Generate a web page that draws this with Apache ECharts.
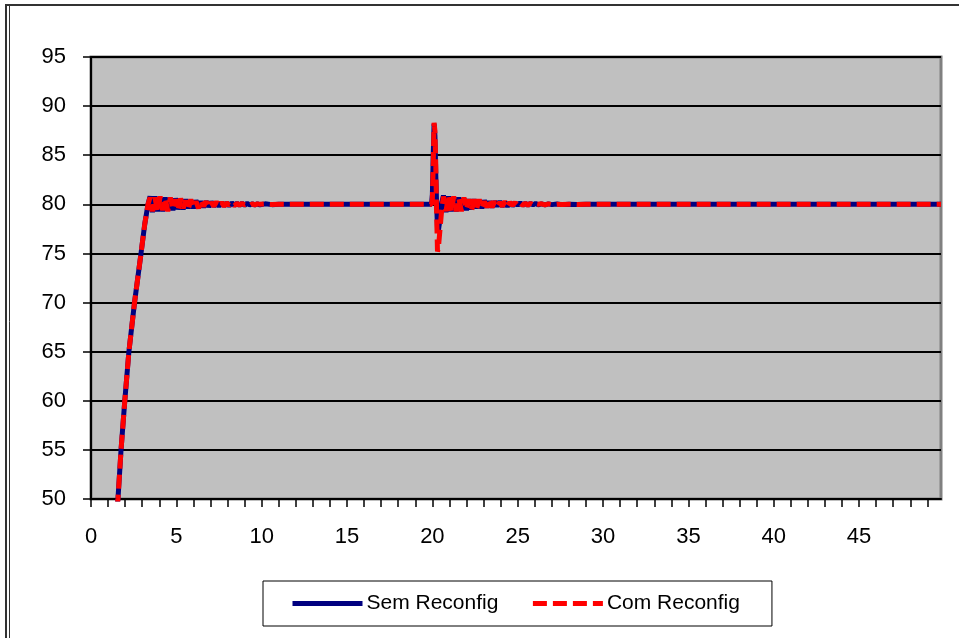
<!DOCTYPE html>
<html>
<head>
<meta charset="utf-8">
<script src="https://cdn.jsdelivr.net/npm/echarts@6/dist/echarts.min.js"></script>
<style>
html,body{margin:0;padding:0;background:#fff;}
#chart{width:959px;height:638px;}
</style>
</head>
<body>
<div id="chart"></div>
<script>
// Time axis (s) and the two series
var tempo = [1.4,1.58,1.76,1.98,2.22,2.55,2.93,3.15,3.34,3.46,
  3.6,3.75,3.9,4.05,4.2,4.35,4.5,4.65,4.8,4.95,5.1,5.25,5.4,5.55,5.7,5.85,6.0,6.15,6.3,6.45,6.6,6.75,6.9,7.05,7.2,7.35,7.5,7.65,7.8,7.95,8.1,8.25,8.4,8.55,8.7,8.85,9.0,9.15,9.3,9.45,9.6,9.75,9.9,
  10.2,10.6,11,19.95,
  20.0,20.05,20.1,20.15,20.2,20.25,20.3,20.35,20.45,20.55,20.65,
  20.8,20.95,21.1,21.25,21.4,21.55,21.7,21.85,22.0,22.15,22.3,22.45,22.6,22.75,22.9,23.05,23.2,23.35,23.5,23.65,23.8,23.95,24.1,24.25,24.4,24.55,24.7,24.85,25.0,25.15,25.3,25.45,25.6,25.75,25.9,26.05,
  26.2,26.4,26.6,26.8,27.0,27.3,27.6,28,28.5,29,49.8];

var semReconfig = [47,50,55,60,65,70,75,78,80,80.8,
  79.2,80.8,79.3,80.7,79.3,80.7,79.4,80.6,79.4,80.6,79.5,80.5,79.5,80.5,79.6,80.4,79.6,80.4,79.7,80.3,79.7,80.3,79.75,80.25,79.8,80.2,79.8,80.2,79.85,80.15,79.85,80.15,79.9,80.1,79.9,80.1,79.9,80.1,79.95,80.05,79.95,80.05,79.95,
  80.05,79.97,80,80,
  81,85,88.2,87,83,80,77.6,77.3,78.5,80.2,80.9,
  79.2,80.8,79.3,80.7,79.3,80.7,79.4,80.6,79.4,80.5,79.5,80.5,79.6,80.4,79.6,80.4,79.7,80.3,79.7,80.3,79.8,80.3,79.8,80.2,79.8,80.2,79.85,80.15,79.9,80.15,79.9,80.1,79.9,80.1,79.95,80.1,
  79.95,80.05,79.95,80.05,79.97,80.03,79.97,80.02,79.98,80,80];

var comReconfig = [47,50,55,60,65,70,75,78,80,80.7,
  79.3,80.7,79.2,80.8,79.4,80.6,79.3,80.7,79.5,80.5,79.4,80.6,79.6,80.4,79.5,80.5,79.7,80.3,79.6,80.4,79.8,80.3,79.7,80.2,79.8,80.25,79.85,80.2,79.8,80.15,79.9,80.1,79.85,80.1,79.9,80.1,79.95,80.05,79.9,80.05,79.95,80.05,80,
  80.03,79.98,80,80,
  80.5,84,88.3,87.5,84,79,75.2,75.5,77.5,79.5,80.8,
  79.3,80.9,79.2,80.8,79.3,80.6,79.3,80.7,79.5,80.5,79.4,80.5,79.6,80.5,79.6,80.3,79.7,80.4,79.7,80.3,79.8,80.2,79.8,80.3,79.8,80.2,79.9,80.2,79.85,80.1,79.9,80.1,79.9,80.1,79.9,80.05,
  80,80.05,79.95,80.05,79.97,80.02,79.98,80.02,79.99,80,80];

var yTicks = [50,55,60,65,70,75,80,85,90,95];
var xLabelStep = 5;

function pairs(t, v){ return t.map(function(x,i){ return [x, v[i]]; }); }

var chart = echarts.init(document.getElementById('chart'), null, {renderer:'canvas'});
var font = 'Liberation Sans, Arial, sans-serif';
chart.setOption({
  animation:false,
  backgroundColor:'#ffffff',
  textStyle:{fontFamily:font},
  graphic:[
    {type:'rect', shape:{x:6,y:5,width:960,height:640}, style:{fill:'none',stroke:'#333',lineWidth:2}, z:-1},
    {type:'line', shape:{x1:9.5,y1:5,x2:9.5,y2:638}, style:{stroke:'#333',lineWidth:1}, z:-1}
  ],
  grid:{left:91,right:18,top:57,bottom:139,show:true,backgroundColor:'#C0C0C0',borderColor:'#808080',borderWidth:3},
  legend:{
    left:263, top:581,
    padding:[12,32,12,27],
    borderColor:'#000', borderWidth:1, backgroundColor:'#fff',
    itemWidth:70, itemHeight:14, itemGap:32,
    itemStyle:{opacity:0},
    lineStyle:{width:5},
    textStyle:{fontFamily:font,fontSize:21,color:'#000',padding:[0,0,0,-1]},
    data:['Sem Reconfig','Com Reconfig']
  },
  xAxis:{
    type:'value', min:0, max:49.8, interval:1,
    axisLine:{show:true,onZero:false,lineStyle:{color:'#000',width:2}},
    axisTick:{show:true,length:8,lineStyle:{color:'#000',width:1.5}},
    splitLine:{show:false},
    axisLabel:{margin:27,fontSize:22,color:'#000',fontFamily:font,showMaxLabel:false,
      formatter:function(v){ return (Math.round(v)%xLabelStep===0 && Math.abs(v-Math.round(v))<1e-6) ? String(Math.round(v)) : ''; }}
  },
  yAxis:{
    type:'value', min:yTicks[0], max:yTicks[yTicks.length-1], interval:5,
    axisLine:{show:true,lineStyle:{color:'#000',width:2}},
    axisTick:{show:true,length:8,lineStyle:{color:'#000',width:1.5}},
    splitLine:{show:true,lineStyle:{color:'#000',width:2}},
    axisLabel:{margin:25,fontSize:22,color:'#000',fontFamily:font}
  },
  series:[
    {name:'Sem Reconfig', type:'line', symbol:'none', clip:true, z:2,
     data:pairs(tempo, semReconfig),
     lineStyle:{color:'#000080',width:5},
     itemStyle:{color:'#000080'}},
    {name:'Com Reconfig', type:'line', symbol:'none', clip:true, z:3,
     data:pairs(tempo, comReconfig),
     lineStyle:{color:'#FF0000',width:5,type:[14,6]},
     itemStyle:{color:'#FF0000'}}
  ]
});
</script>
</body>
</html>
